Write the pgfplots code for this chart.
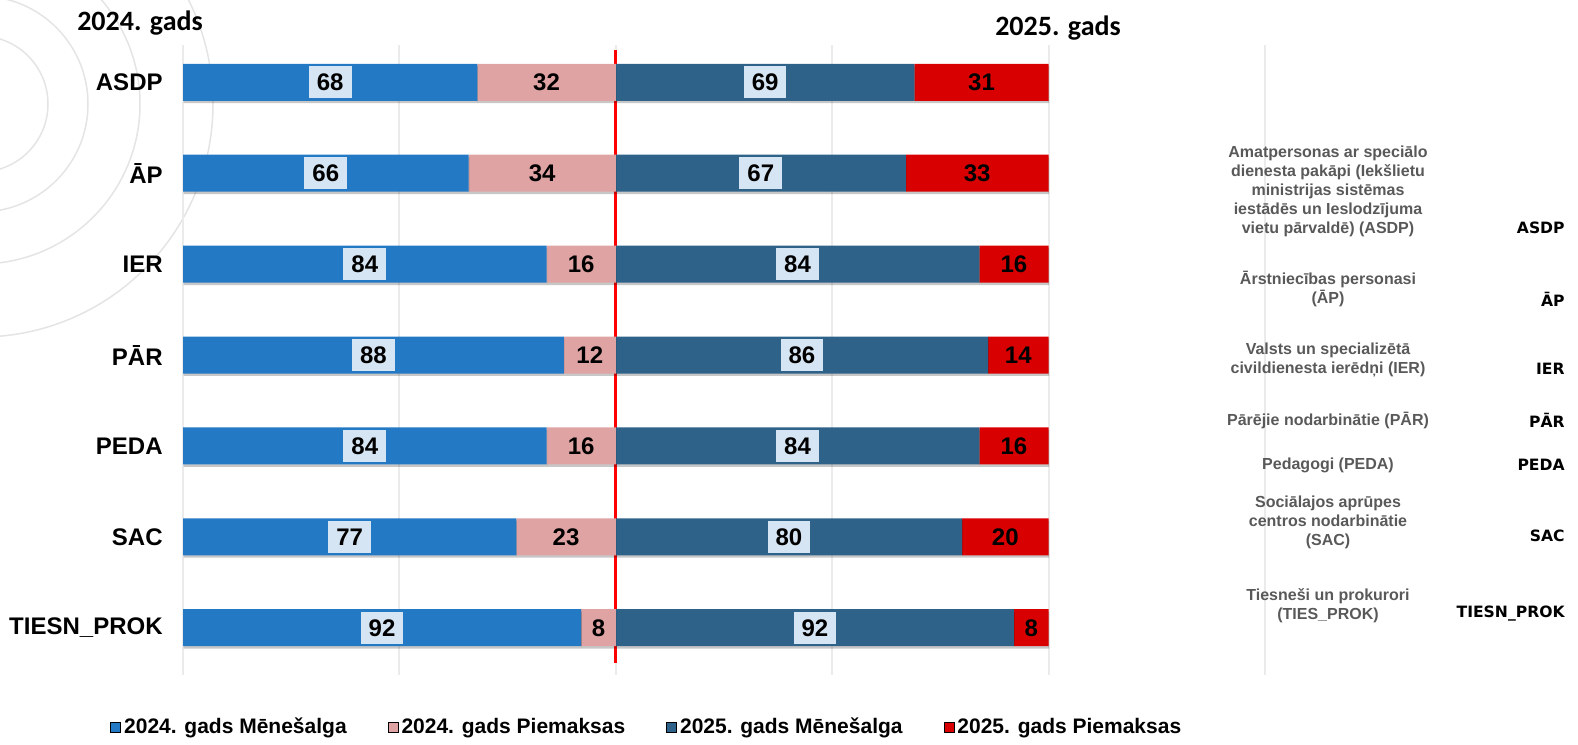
\documentclass[border=0pt]{standalone}
\usepackage{pgfplots}
\pgfplotsset{compat=1.18}
\usepackage{pgfplotstable}
\usepackage{fontspec}
\setmainfont{Liberation Sans}
\newfontfamily\carlito{Carlito}
\newfontfamily\dejavu{DejaVu Sans}
\usetikzlibrary{shadows}
\definecolor{cA}{HTML}{2479C4}
\definecolor{cB}{HTML}{E0A3A4}
\definecolor{cC}{HTML}{2E6289}
\definecolor{cD}{HTML}{D80000}
\definecolor{boxcol}{HTML}{D6E5F3}
\definecolor{gridgray}{HTML}{EBEBEB}
\definecolor{arcgray}{HTML}{E4E4E4}
\definecolor{txtgray}{HTML}{595959}
\pgfplotstableread{
i a b c d
0 68 32 69 31
1 66 34 67 33
2 84 16 84 16
3 88 12 86 14
4 84 16 84 16
5 77 23 80 20
6 92 8 92 8
}\data
\begin{document}
\begin{tikzpicture}
\path[use as bounding box] (0pt,0pt) rectangle (789pt,-372pt);
\begin{scope}
\clip (0pt,0pt) rectangle (789pt,-372pt);
\foreach \r in {68,108,160,233} {
  \draw[arcgray, line width=0.75pt] (-10pt,-52pt) circle[radius=\r*0.5pt];
}
\end{scope}
\begin{axis}[
  at={(91.5pt,-337.5pt)}, anchor=south west,
  scale only axis, width=541pt, height=315pt,
  xbar stacked, bar width=18.5pt,
  xmin=0, xmax=250, ymin=-0.41, ymax=6.52, y dir=reverse,
  xtick={0,50,...,250}, xticklabels={},
  ytick={0,...,6},
  yticklabels={ASDP,ĀP,IER,PĀR,PEDA,SAC,TIESN\_PROK},
  yticklabel style={font=\fontsize{12}{14}\selectfont\bfseries, inner sep=0pt, xshift=-10pt},
  xmajorgrids, grid style={draw=gridgray, line width=1pt},
  axis line style={draw=none}, tick style={draw=none},
  /pgf/number format/assume math mode=true,
  point meta=explicit,
  nodes near coords,
  every node near coord/.append style={font=\fontsize{12}{14}\selectfont\bfseries, text=black, anchor=center},
  clip=false,
  legend columns=4,
  legend style={at={(axis description cs:-0.0675,-0.0825)}, anchor=west, draw=none, fill=none, inner sep=0pt,
    font=\fontsize{10.5}{12}\selectfont\bfseries,
    /tikz/every even column/.append style={column sep=19pt},
    nodes={inner sep=1.5pt}},
  legend image code/.code={\fill[#1] (0pt,-2.5pt) rectangle (5pt,2.5pt);},
]
\addplot[forget plot, draw=none, fill=cA,
  drop shadow={shadow xshift=0.3pt, shadow yshift=-1.2pt, opacity=0.22, fill=black},
  every node near coord/.append style={fill=boxcol, minimum height=16pt, inner xsep=4pt, inner ysep=0pt}]
  table[x=a, y=i, meta=a] {\data};
\addplot[forget plot, draw=none, fill=cB,
  drop shadow={shadow xshift=0.3pt, shadow yshift=-1.2pt, opacity=0.22, fill=black}]
  table[x=b, y=i, meta=b] {\data};
\addplot[forget plot, draw=none, fill=cC,
  drop shadow={shadow xshift=0.3pt, shadow yshift=-1.2pt, opacity=0.22, fill=black},
  every node near coord/.append style={fill=boxcol, minimum height=16pt, inner xsep=4pt, inner ysep=0pt}]
  table[x=c, y=i, meta=c] {\data};
\addplot[forget plot, draw=none, fill=cD,
  drop shadow={shadow xshift=0.3pt, shadow yshift=-1.2pt, opacity=0.22, fill=black}]
  table[x=d, y=i, meta=d] {\data};
\draw[red, line width=1.5pt] (axis cs:100,-0.35) -- (axis cs:100,6.385);
\addlegendimage{fill=cA}
\addlegendentry{2024. gads Mēnešalga}
\addlegendimage{fill=cB}
\addlegendentry{2024. gads Piemaksas}
\addlegendimage{fill=cC}
\addlegendentry{2025. gads Mēnešalga}
\addlegendimage{fill=cD}
\addlegendentry{2025. gads Piemaksas}
\end{axis}
\begin{scope}[x=0.5pt, y=-0.5pt]
\node[font=\carlito\fontsize{14}{16}\selectfont\bfseries] at (140,23) {2024. gads};
\node[font=\carlito\fontsize{14}{16}\selectfont\bfseries] at (1058,28) {2025. gads};
\begin{scope}[every node/.style={align=center, text=txtgray, font=\fontsize{8}{9.5}\selectfont\bfseries, inner sep=0pt}]
\node at (1328,191) {Amatpersonas ar speciālo\\dienesta pakāpi (Iekšlietu\\ministrijas sistēmas\\iestādēs un Ieslodzījuma\\vietu pārvaldē) (ASDP)};
\node at (1328,289) {Ārstniecības personasi\\(ĀP)};
\node at (1328,360) {Valsts un specializētā\\civildienesta ierēdņi (IER)};
\node at (1328,420) {Pārējie nodarbinātie (PĀR)};
\node at (1328,465) {Pedagogi (PEDA)};
\node at (1328,522) {Sociālajos aprūpes\\centros nodarbinātie\\(SAC)};
\node at (1328,606) {Tiesneši un prokurori\\(TIES\_PROK)};
\end{scope}
\begin{scope}[every node/.style={anchor=east, font=\dejavu\fontsize{7.8}{9}\selectfont\bfseries, inner sep=0pt}]
\node at (1565,228) {ASDP};
\node at (1565,299) {ĀP};
\node at (1565,369) {IER};
\node at (1565,420) {PĀR};
\node at (1565,465) {PEDA};
\node at (1565,536) {SAC};
\node at (1565,614) {TIESN\_PROK};
\end{scope}
\end{scope}
\end{tikzpicture}
\end{document}
